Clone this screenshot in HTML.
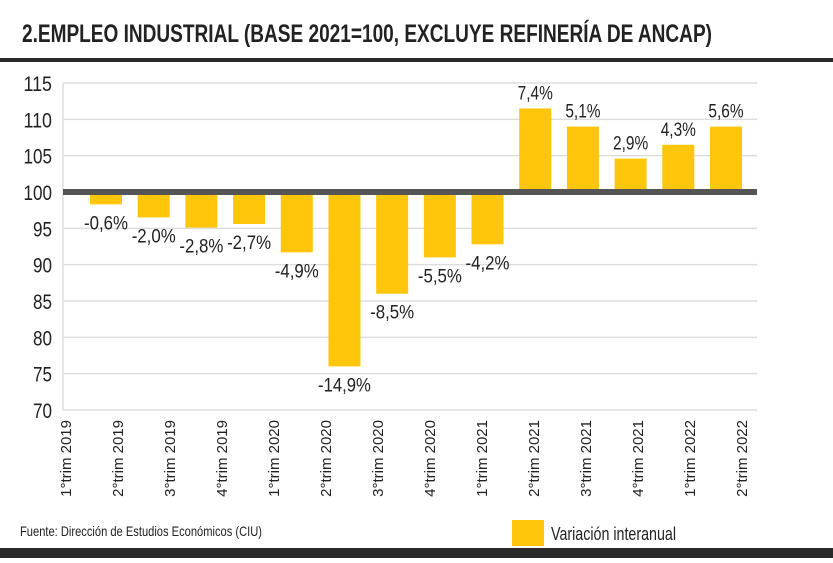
<!DOCTYPE html>
<html><head><meta charset="utf-8"><style>
body{margin:0;width:833px;height:558px;background:#fff;overflow:hidden;font-family:"Liberation Sans Narrow","Liberation Sans",sans-serif;}
</style></head><body>
<svg width="833" height="558" xmlns="http://www.w3.org/2000/svg" id="svg">
<text x="22" y="42" font-size="25" font-weight="bold" fill="#222" textLength="690" lengthAdjust="spacingAndGlyphs">2.EMPLEO INDUSTRIAL (BASE 2021=100, EXCLUYE REFINERÍA DE ANCAP)</text>
<rect x="0" y="58" width="833" height="4" fill="#2a2a2a"/>
<rect x="0" y="548" width="833" height="10" fill="#2a2a2a"/>
<g id="grid"></g><g id="bars"></g><g id="labels"></g><g id="xt"></g>
<text x="20" y="536" font-size="14" fill="#222" textLength="242" lengthAdjust="spacingAndGlyphs">Fuente: Dirección de Estudios Económicos (CIU)</text>
<rect x="512" y="520" width="32" height="26" fill="#FFC60B"/>
<text x="551" y="540" font-size="18" fill="#222" textLength="125" lengthAdjust="spacingAndGlyphs">Variación interanual</text>
</svg>
<script>
const categories=["1°trim 2019","2°trim 2019","3°trim 2019","4°trim 2019","1°trim 2020","2°trim 2020","3°trim 2020","4°trim 2020","1°trim 2021","2°trim 2021","3°trim 2021","4°trim 2021","1°trim 2022","2°trim 2022"];
const values=[98.3,96.5,95.1,95.6,91.7,76.0,86.0,91.0,92.8,111.5,109.0,104.6,106.5,109.0];
const changes=["-0,6%","-2,0%","-2,8%","-2,7%","-4,9%","-14,9%","-8,5%","-5,5%","-4,2%","7,4%","5,1%","2,9%","4,3%","5,6%"];
const yTicks=[70,75,80,85,90,95,100,105,110,115];
const NS="http://www.w3.org/2000/svg";
const X0=63,X1=757,Y70=410,Y115=83;
const y=v=>Y70+(v-70)*(Y115-Y70)/45;
const xc=i=>106+i*(726-106)/(categories.length-1);
const xl=i=>66+i*(742-66)/(categories.length-1);
function mk(t,a,p){const e=document.createElementNS(NS,t);for(const k in a)e.setAttribute(k,a[k]);p.appendChild(e);return e;}
const G=document.getElementById('grid'),B=document.getElementById('bars'),L=document.getElementById('labels'),XT=document.getElementById('xt');
yTicks.forEach(t=>{
 const l=mk('line',{x1:X0,x2:X1,y1:y(t),y2:y(t),stroke:'#ddd','stroke-width':1.5},G);
 
 
 const s=String(t);
 const tx=mk('text',{x:52-s.length*9.5,y:y(t)+8,'font-size':21,fill:'#222',textLength:s.length*9.5,lengthAdjust:'spacingAndGlyphs'},G);
 tx.textContent=s;
 
 
});
const ax=mk('line',{x1:X0,x2:X0,y1:Y115,y2:Y70,stroke:'#ddd','stroke-width':1.5},G);


values.forEach((v,i)=>{
 const top=Math.min(y(v),y(100)),h=Math.abs(y(v)-y(100));
 const r=mk('rect',{x:xc(i)-16,y:top,width:32,height:h,fill:'#FFC60B'},B);
 
 
 const ly=v<100?y(v)+25:y(v)-9;
 const w=changes[i].length*8.8;
 const t=mk('text',{x:xc(i)-w/2,y:ly,'font-size':19,fill:'#222',textLength:w,lengthAdjust:'spacingAndGlyphs'},L);
 t.textContent=changes[i];
 
 
 const xt=mk('text',{x:0,y:0,'font-size':15,'text-anchor':'end',fill:'#222',transform:`translate(${xl(i)+5},${420}) rotate(-90)`},XT);
 xt.textContent=categories[i];
 
 
});
const base=mk('rect',{x:X0,y:y(100)-3,width:X1-X0,height:6,fill:'#555'},B);


</script>
</body></html>
